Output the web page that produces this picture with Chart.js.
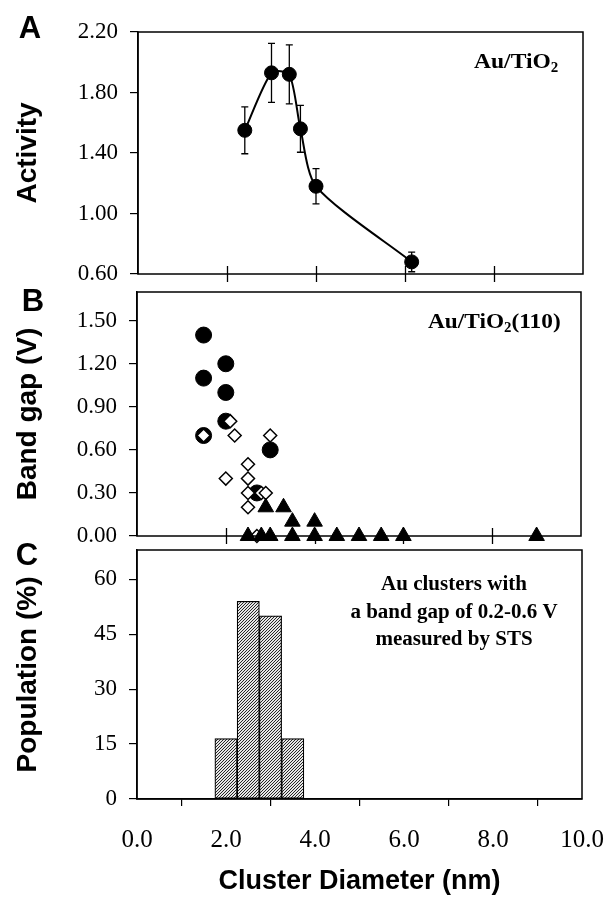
<!DOCTYPE html>
<html>
<head>
<meta charset="utf-8">
<script src="https://cdn.jsdelivr.net/npm/chart.js@4.4.1/dist/chart.umd.min.js"></script>
<style>
html,body{margin:0;padding:0;background:#fff;width:605px;height:899px;overflow:hidden;position:relative}
canvas{position:absolute;left:0}
</style>
</head>
<body>
<canvas id="ca" width="605" height="290" style="top:0;width:605px;height:290px"></canvas>
<canvas id="cb" width="605" height="270" style="top:280px;width:605px;height:270px"></canvas>
<canvas id="cc" width="605" height="359" style="top:540px;width:605px;height:359px"></canvas>
<script>
// ---------- data ----------
const activityDiameter = [2.4, 3.0, 3.4, 3.65, 4.0, 6.15];
const activityValue    = [1.55, 1.93, 1.92, 1.56, 1.18, 0.68];
const activityError    = [0.155, 0.195, 0.195, 0.155, 0.117, 0.065];

const circleDiameter  = [1.5, 2.0, 1.5, 2.0, 2.0, 3.0, 2.7, 1.5];
const circleGap       = [1.40, 1.20, 1.10, 1.00, 0.80, 0.60, 0.30, 0.70];
const diamondDiameter = [1.5, 2.1, 2.2, 3.0, 2.5, 2.0, 2.5, 2.5, 2.8, 2.9, 2.5, 2.7];
const diamondGap      = [0.70, 0.80, 0.70, 0.70, 0.50, 0.40, 0.40, 0.30, 0.30, 0.30, 0.20, 0.00];
const triangleDiameter = [2.9, 3.3, 3.5, 4.0, 2.5, 2.8, 3.0, 3.5, 4.0, 4.5, 5.0, 5.5, 6.0, 9.0];
const triangleGap      = [0.20, 0.20, 0.10, 0.10, 0, 0, 0, 0, 0, 0, 0, 0, 0, 0];

const histDiameter   = [2.0, 2.5, 3.0, 3.5];
const histPopulation = [16.5, 54, 50, 16.5];

const diameterTicks   = [0, 2, 4, 6, 8, 10];
const activityTicks   = [0.6, 1.0, 1.4, 1.8, 2.2];
const gapTicks        = [0, 0.3, 0.6, 0.9, 1.2, 1.5];
const populationTicks = [0, 15, 30, 45, 60];

// ---------- helpers ----------
Chart.defaults.font.family = "'Liberation Serif', 'Times New Roman', serif";
Chart.defaults.color = '#000';

const pts = (xs, ys) => xs.map((x, i) => ({x: x, y: ys[i]}));

function drawRuns(ctx, runs, x, y, sx, align) {
  ctx.save();
  let total = 0;
  runs.forEach(r => { ctx.font = 'bold ' + r.size + "px 'Liberation Serif'"; total += ctx.measureText(r.t).width; });
  ctx.translate(x, y);
  ctx.scale(sx, 1);
  let cx = align === 'center' ? -total / 2 : 0;
  ctx.fillStyle = '#000';
  ctx.textBaseline = 'alphabetic';
  ctx.textAlign = 'left';
  runs.forEach(r => {
    ctx.font = 'bold ' + r.size + "px 'Liberation Serif'";
    ctx.fillText(r.t, cx, r.dy || 0);
    cx += ctx.measureText(r.t).width;
  });
  ctx.restore();
}

function letter(ctx, t, x, y) {
  ctx.save();
  ctx.font = "bold 31px 'Liberation Sans', Arial, sans-serif";
  ctx.fillStyle = '#000';
  ctx.textAlign = 'center';
  ctx.textBaseline = 'middle';
  ctx.fillText(t, x, y);
  ctx.restore();
}

function framePlugin(cross) {
  return {
    id: 'frame',
    afterDraw(chart) {
      const {ctx, chartArea: a} = chart;
      ctx.save();
      ctx.strokeStyle = '#000';
      ctx.lineWidth = 1.5;
      ctx.strokeRect(a.left, a.top, a.right - a.left, a.bottom - a.top);
      if (cross) {
        const xs = chart.scales.x;
        ctx.lineWidth = 1.3;
        diameterTicks.filter(v => v > 0 && v < 10).forEach(v => {
          const px = Math.round(xs.getPixelForValue(v)) + 0.5;
          ctx.beginPath();
          ctx.moveTo(px, a.bottom - 8);
          ctx.lineTo(px, a.bottom + 8);
          ctx.stroke();
        });
      }
      ctx.restore();
    }
  };
}

function yAxis(min, max, ticks, fmt, title, width) {
  return {
    type: 'linear', min: min, max: max,
    afterBuildTicks: s => { s.ticks = ticks.map(v => ({value: v})); },
    afterFit: s => { s.width = width; s.paddingTop = 0; s.paddingBottom = 0; },
    ticks: {callback: v => fmt(v), font: {size: 23}, color: '#000', padding: 12},
    grid: {drawOnChartArea: false, color: '#000', tickLength: 8, lineWidth: 1.2},
    border: {display: true, color: '#000', width: 1.5},
    title: {display: true, text: title, color: '#000',
            font: {family: "'Liberation Sans', Arial, sans-serif", weight: 'bold', size: 28, lineHeight: 1},
            padding: {top: 14, bottom: 0}}
  };
}

const common = {
  responsive: false, animation: false, devicePixelRatio: 1, events: [],
};

// ---------- panel A ----------
new Chart(document.getElementById('ca'), {
  type: 'scatter',
  data: {datasets: [{
    data: pts(activityDiameter, activityValue),
    showLine: true, borderColor: '#000', borderWidth: 2,
    tension: 0.25,
    pointRadius: 7, pointBackgroundColor: '#000', pointBorderColor: '#000', pointBorderWidth: 1,
    clip: false
  }]},
  options: Object.assign({}, common, {
    layout: {autoPadding: false, padding: {top: 32, bottom: 16, left: 0, right: 22}},
    plugins: {legend: {display: false}, tooltip: {enabled: false}},
    scales: {
      x: {type: 'linear', min: 0, max: 10, display: false},
      y: yAxis(0.6, 2.2, activityTicks, v => v.toFixed(2), 'Activity', 138)
    }
  }),
  plugins: [framePlugin(true), {
    id: 'errA',
    beforeDatasetsDraw(chart) {
      const {ctx} = chart, xs = chart.scales.x, ys = chart.scales.y;
      ctx.save();
      ctx.strokeStyle = '#000';
      ctx.lineWidth = 1.3;
      activityDiameter.forEach((xv, i) => {
        const px = xs.getPixelForValue(xv);
        const t = ys.getPixelForValue(activityValue[i] + activityError[i]);
        const b = ys.getPixelForValue(activityValue[i] - activityError[i]);
        ctx.beginPath();
        ctx.moveTo(px, t); ctx.lineTo(px, b);
        ctx.moveTo(px - 3.5, t); ctx.lineTo(px + 3.5, t);
        ctx.moveTo(px - 3.5, b); ctx.lineTo(px + 3.5, b);
        ctx.stroke();
      });
      ctx.restore();
    },
    afterDraw(chart) {
      const ctx = chart.ctx;
      letter(ctx, 'A', 30, 29);
      drawRuns(ctx, [{t: 'Au/TiO', size: 22}, {t: '2', size: 14, dy: 4}], 474, 68, 1.07, 'left');
    }
  }]
});

// ---------- panel B ----------
new Chart(document.getElementById('cb'), {
  type: 'scatter',
  data: {datasets: [
    {data: pts(triangleDiameter, triangleGap), pointStyle: 'triangle', pointRadius: 9,
     pointBackgroundColor: '#000', pointBorderColor: '#000', pointBorderWidth: 1, clip: false},
    {data: pts(diamondDiameter, diamondGap), pointStyle: 'rectRot', pointRadius: 6.5,
     pointBackgroundColor: '#fff', pointBorderColor: '#000', pointBorderWidth: 1.5, clip: false},
    {data: pts(circleDiameter, circleGap), pointStyle: 'circle', pointRadius: 8,
     pointBackgroundColor: '#000', pointBorderColor: '#000', pointBorderWidth: 1, clip: false}
  ]},
  options: Object.assign({}, common, {
    layout: {autoPadding: false, padding: {top: 12, bottom: 14, left: 0, right: 24}},
    plugins: {legend: {display: false}, tooltip: {enabled: false}},
    scales: {
      x: {type: 'linear', min: 0, max: 10, display: false},
      y: yAxis(0, 1.70, gapTicks, v => v.toFixed(2), 'Band gap (V)', 137)
    }
  }),
  plugins: [framePlugin(true), {
    id: 'txtB',
    afterDraw(chart) {
      const ctx = chart.ctx;
      letter(ctx, 'B', 33, 22);
      drawRuns(ctx, [{t: 'Au/TiO', size: 22}, {t: '2', size: 14, dy: 4}, {t: '(110)', size: 22}], 428, 48, 1.06, 'left');
    }
  }]
});

// ---------- panel C ----------
function makeHatch() {
  const c = document.createElement('canvas');
  c.width = 3; c.height = 3;
  const g = c.getContext('2d');
  g.fillStyle = '#e6e6e6';
  g.fillRect(0, 0, 3, 3);
  g.strokeStyle = '#111';
  g.lineWidth = 0.9;
  g.beginPath();
  g.moveTo(0, 3); g.lineTo(3, 0);
  g.moveTo(-1, 1); g.lineTo(1, -1);
  g.moveTo(2, 4); g.lineTo(4, 2);
  g.stroke();
  return g.createPattern(c, 'repeat');
}

new Chart(document.getElementById('cc'), {
  type: 'bar',
  data: {datasets: [{
    data: pts(histDiameter, histPopulation),
    backgroundColor: makeHatch(), borderColor: '#000', borderWidth: 1.2, borderSkipped: false,
    barPercentage: 1, categoryPercentage: 1
  }]},
  options: Object.assign({}, common, {
    layout: {autoPadding: false, padding: {top: 10, bottom: 0, left: 0, right: 23}},
    plugins: {legend: {display: false}, tooltip: {enabled: false}},
    scales: {
      x: {
        type: 'linear', min: 0, max: 10, offset: false,
        afterBuildTicks: s => { s.ticks = diameterTicks.map(v => ({value: v})); },
        afterFit: s => { s.height = 100; s.paddingRight = 0; s.paddingLeft = 0; },
        ticks: {callback: v => v.toFixed(1), font: {size: 25}, color: '#000', padding: 19, maxRotation: 0},
        grid: {drawOnChartArea: false, color: '#000', tickLength: 7, lineWidth: 1.2},
        border: {display: true, color: '#000', width: 1.5},
        title: {display: true, text: 'Cluster Diameter (nm)', color: '#000',
                font: {family: "'Liberation Sans', Arial, sans-serif", weight: 'bold', size: 27, lineHeight: 1},
                padding: {top: 0, bottom: 4}}
      },
      y: yAxis(0, 68, populationTicks, v => String(v), 'Population (%)', 137)
    }
  }),
  plugins: [framePlugin(false), {
    id: 'txtC',
    afterDraw(chart) {
      const ctx = chart.ctx;
      letter(ctx, 'C', 27, 16);
      drawRuns(ctx, [{t: 'Au clusters with', size: 20}], 454, 50, 1.05, 'center');
      drawRuns(ctx, [{t: 'a band gap of 0.2-0.6 V', size: 20}], 454, 78, 1.05, 'center');
      drawRuns(ctx, [{t: 'measured by STS', size: 20}], 454, 105, 1.05, 'center');
    }
  }]
});
</script>
</body>
</html>
